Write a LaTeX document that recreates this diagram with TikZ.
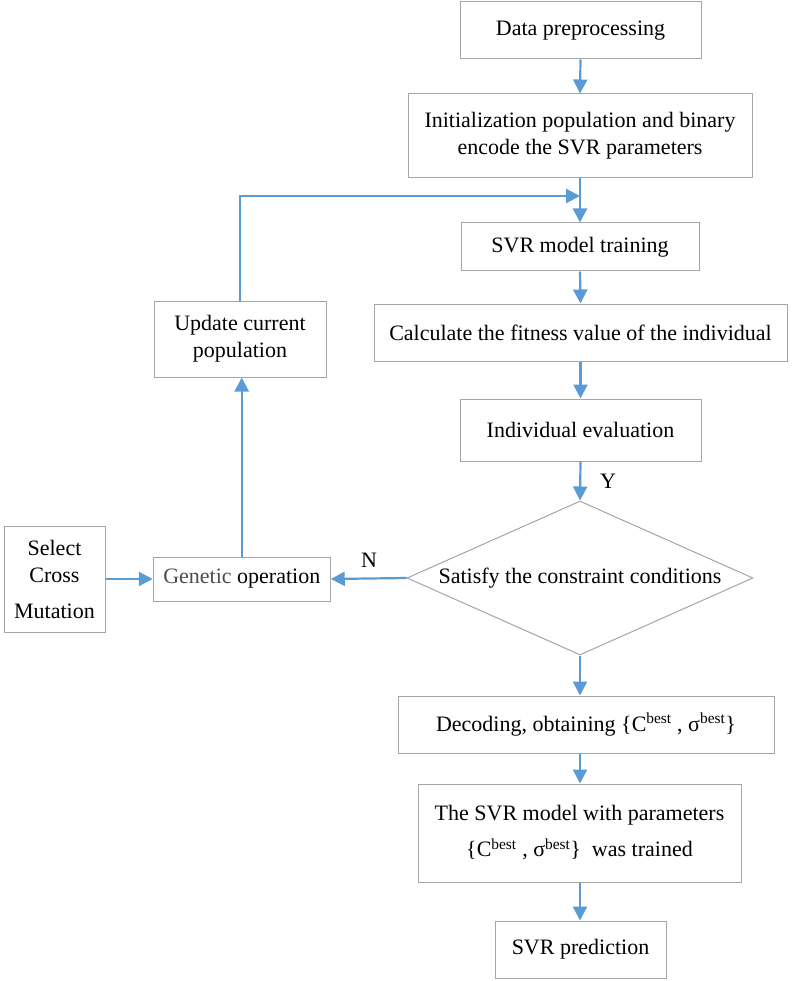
\documentclass[tikz,border=0pt]{standalone}
\usepackage{fontspec}
\setmainfont{Liberation Serif}
\usetikzlibrary{arrows.meta,shapes.geometric}
\definecolor{arrblue}{HTML}{5B9BD5}
\definecolor{boxgray}{HTML}{A6A6A6}
\begin{document}
\begin{tikzpicture}[x=1pt,y=-1pt,
  box/.style={draw=boxgray,line width=1pt,rectangle,inner sep=0pt,align=center,font=\fontsize{22}{27}\selectfont},
  dia/.style={draw=boxgray,line width=1pt,diamond,inner sep=0pt,aspect=2.25,font=\fontsize{22}{27}\selectfont},
  arr/.style={draw=arrblue,line width=2.2pt,-{Triangle[width=14pt,length=14pt]}},
  lbl/.style={font=\fontsize{22}{27}\selectfont,inner sep=0pt}]
\useasboundingbox (0,0) rectangle (793,981);
\node[box,minimum width=241pt,minimum height=57pt] (data) at (580.5,30.5) {Data preprocessing};
\node[box,minimum width=344pt,minimum height=84pt] (init) at (580,136) {Initialization population and binary\\encode the SVR parameters};
\node[box,minimum width=238pt,minimum height=48pt] (train) at (580,247) {SVR model training};
\node[box,minimum width=413pt,minimum height=57pt] (calc) at (580.5,332.5) {Calculate the fitness value of the individual};
\node[box,minimum width=241pt,minimum height=62pt] (indiv) at (580.5,430) {Individual evaluation};
\node[dia,minimum width=346pt,minimum height=154pt] (cond) at (580,578) {Satisfy the constraint conditions};
\node[box,minimum width=177pt,minimum height=44pt] (gen) at (241.75,579) {\textcolor{black!70}{Genetic} operation};
\node[box,minimum width=101pt,minimum height=106pt] (sel) at (54.5,579) {Select\\Cross\\[9pt]Mutation};
\node[box,minimum width=172pt,minimum height=76pt] (upd) at (240,339) {Update current\\population};
\node[box,minimum width=376pt,minimum height=57pt] (dec) at (586,724.5) {Decoding, obtaining \{C\textsuperscript{best} , σ\textsuperscript{best}\}};
\node[box,minimum width=323pt,minimum height=98pt] (trained) at (579.5,833) {The SVR model with parameters\\[9pt]\{C\textsuperscript{best} , σ\textsuperscript{best}\}\ \ was trained};
\node[box,minimum width=171pt,minimum height=57pt] (pred) at (580.5,949.5) {SVR prediction};
\coordinate (feed) at (580,196);
\draw[arr] (data.south) -- (init.north);
\draw[arr] (init.south) -- (train.north);
\draw[arr] (upd.north) |- (feed);
\draw[arr] (train.south) -- (calc.north);
\draw[arr] (calc.south) -- (indiv.north);
\draw[arr] (indiv.south) -- (cond.north);
\draw[arr] (cond.west) -- (gen.east);
\draw[arr] (sel.east) -- (gen.west);
\draw[arr] (gen.north) -- (gen.north |- upd.south);
\draw[arr] (cond.south) -- (cond.south |- dec.north);
\draw[arr] (cond.south |- dec.south) -- (cond.south |- trained.north);
\draw[arr] (cond.south |- trained.south) -- (cond.south |- pred.north);
\node[lbl] (ylab) at (608,481) {Y};
\node[lbl] (nlab) at (369,560) {N};
\end{tikzpicture}
\end{document}
